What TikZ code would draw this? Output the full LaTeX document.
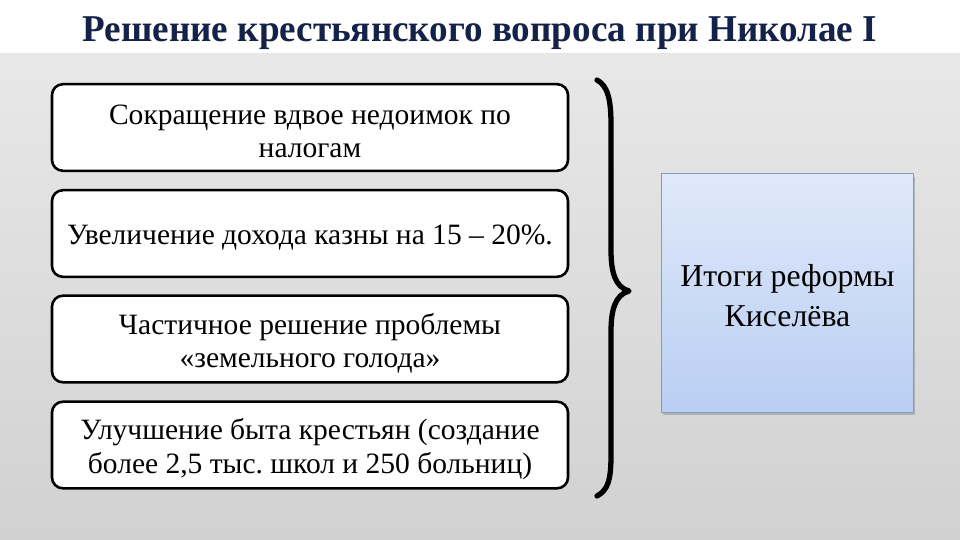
\documentclass[tikz,border=0pt]{standalone}
\usepackage{fontspec}
\setmainfont{Liberation Serif}
\usetikzlibrary{shadows}
\frenchspacing
\definecolor{titleblue}{HTML}{14224A}
\definecolor{bgtop}{HTML}{E8E8E8}
\definecolor{bgbot}{HTML}{D1D1D1}
\definecolor{bluetop}{HTML}{DFE9F9}
\definecolor{bluebot}{HTML}{B9CEF3}
\definecolor{blueedge}{HTML}{7F9CC4}
% 1px = 0.02cm = 0.5669pt
\tikzset{
  itembox/.style={draw=black, line width=1.47pt, fill=white, rounded corners=6.2pt,
    minimum width=293.7pt, minimum height=49.3pt, inner sep=0pt},
  itemtext/.style={align=flush center, inner sep=0pt,
    font=\fontsize{16.8}{19}\selectfont},
  resultbox/.style={draw=blueedge, line width=0.45pt, top color=bluetop, bottom color=bluebot,
    minimum width=143.4pt, minimum height=136pt,
    drop shadow={shadow xshift=1.1pt, shadow yshift=-1.7pt, fill=black!45, opacity=0.5}},
  resulttext/.style={align=flush center, font=\fontsize{18.1}{22.7}\selectfont, inner sep=0pt},
  brace/.style={line width=3pt, line cap=round, line join=round}
}
\begin{document}
\begin{tikzpicture}[x=0.02cm, y=-0.02cm]
\useasboundingbox (0,0) rectangle (960,540);
\fill[white] (0,0) rectangle (960,54);
\shade[top color=bgtop, bottom color=bgbot] (0,54) rectangle (960,540);
\node[font=\bfseries\fontsize{22}{24}\selectfont, text=titleblue, anchor=base, inner sep=0pt] (title) at (480,42)
  {\scalebox{0.96}[0.98]{Решение крестьянского вопроса при Николае I}};
\node[itembox] (b1) at (310,127.5) {};
\node[itembox] (b2) at (310,233.5) {};
\node[itembox] (b3) at (310,339) {};
\node[itembox] (b4) at (310,445) {};
\node[itemtext] (t1) at ([yshift=-2.3pt]b1.center) {Сокращение вдвое недоимок по\\налогам};
\node[itemtext] (t2) at ([yshift=-2.3pt]b2.center) {Увеличение дохода казны на 15 – 20\%.};
\node[itemtext] (t3) at ([yshift=-2.3pt]b3.center) {Частичное решение проблемы\\«земельного голода»};
\node[itemtext] (t4) at ([yshift=-2.3pt]b4.center) {Улучшение быта крестьян (создание\\более 2,5 тыс. школ и 250 больниц)};
\node[resultbox] (r) at (787.5,293) {};
\node[resulttext] (rt) at (787.5,296) {Итоги реформы\\Киселёва};
\coordinate (btop) at (597,80);
\coordinate (btip) at (629,291);
\coordinate (bbot) at (597,496);
\draw[brace] (btop) .. controls (608,86) and (611,100) .. (611,125)
  -- (611,250) .. controls (611,272) and (615,287) .. (btip)
  .. controls (615,295) and (611,310) .. (611,332)
  -- (611,455) .. controls (611,480) and (608,490) .. (bbot);
\end{tikzpicture}
\end{document}
